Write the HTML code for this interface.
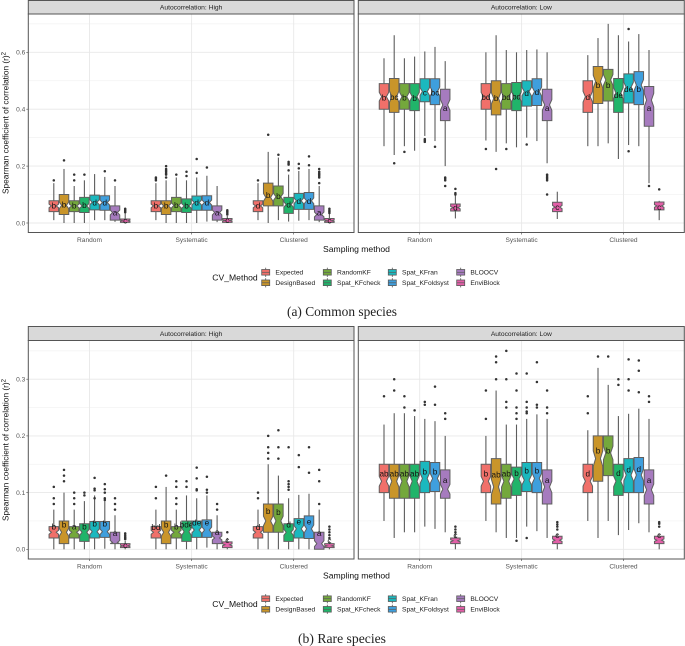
<!DOCTYPE html>
<html lang="en">
<head>
<meta charset="utf-8">
<title>Spearman coefficient by sampling method</title>
<style>
html,body{margin:0;padding:0;background:#fff;}
svg{display:block;font-family:"Liberation Sans",sans-serif;}
</style>
</head>
<body>
<svg id="chart" xmlns="http://www.w3.org/2000/svg" width="685" height="646" viewBox="0 0 685 646">
  <rect x="0" y="0" width="685" height="646" fill="#fff"/>
  <g id="layer"></g>
  <text transform="translate(8.5,123) rotate(-90)" text-anchor="middle" font-size="8.3" fill="#111">Spearman coefficient of correlation (r)<tspan font-size="6" dy="-3">2</tspan></text>
  <text transform="translate(8.5,450) rotate(-90)" text-anchor="middle" font-size="8.3" fill="#111">Spearman coefficient of correlation (r)<tspan font-size="6" dy="-3">2</tspan></text>
  <text x="356.5" y="252" text-anchor="middle" font-size="8.6" fill="#111">Sampling method</text>
  <text x="356.5" y="578.5" text-anchor="middle" font-size="8.6" fill="#111">Sampling method</text>
  <text x="212.3" y="280.5" font-size="8.6" fill="#111">CV_Method</text>
  <text x="212.3" y="607" font-size="8.6" fill="#111">CV_Method</text>
  <text x="342" y="316" text-anchor="middle" font-size="13.4" textLength="110" lengthAdjust="spacingAndGlyphs" font-family="'Liberation Serif',serif" fill="#222">(a) Common species</text>
  <text x="342" y="643" text-anchor="middle" font-size="13.4" textLength="88" lengthAdjust="spacingAndGlyphs" font-family="'Liberation Serif',serif" fill="#222">(b) Rare species</text>
</svg>
<script>
// ---- categories and labels ----
const methods = ['Expected','DesignBased','RandomKF','Spat_KFcheck','Spat_KFran','Spat_KFoldsyst','BLOOCV','EnviBlock'];
const samplingLabels = ['Random','Systematic','Clustered'];
const commonTicks = [0,0.2,0.4,0.6];
const commonMinorTicks = [0.1,0.3,0.5,0.7];
const rareTicks = [0,0.1,0.2,0.3];
const rareMinorTicks = [0.05,0.15,0.25,0.35];

// each row: whisker low, q1, median, q3, whisker high, letter height
// rows run method by method inside Random, Systematic, Clustered
const commonHighStats = [
 [.01,.04,.06,.078,.14,.06],[0,.03,.062,.10,.19,.065],[0,.04,.06,.078,.13,.06],[0,.037,.06,.09,.15,.062],[.01,.046,.073,.098,.172,.072],[.01,.045,.072,.096,.162,.072],[.004,.01,.037,.06,.13,.037],[0,.002,.008,.014,.034,.008],
 [.01,.04,.06,.078,.14,.06],[0,.03,.06,.078,.15,.06],[0,.04,.062,.09,.16,.062],[0,.037,.06,.085,.15,.06],[0,.045,.072,.095,.16,.072],[.005,.045,.072,.096,.166,.072],[.003,.01,.037,.06,.13,.037],[0,.002,.009,.016,.025,.009],
 [.01,.04,.06,.078,.14,.06],[0,.06,.09,.14,.25,.097],[.01,.06,.092,.13,.23,.095],[.005,.034,.065,.09,.17,.065],[.008,.048,.078,.104,.183,.077],[.01,.048,.078,.107,.19,.077],[.003,.01,.03,.06,.13,.036],[0,.002,.008,.016,.034,.008]
];
const commonHighOutliers = [
 [.15],[.22],[.15,.17],[.17],[],[.182],[.15],[.038,.042,.046,.05],
 [.15,.155,.16],[.16,.17,.175,.18,.185,.19,.2],[.17],[.165,.18],[.176,.225],[.195],[],[.03,.035,.04,.045],
 [.15],[.31],[.24],[.185,.205,.21,.215],[.192,.208],[.203,.234],[.14,.16,.165,.17,.175,.18,.19],[.035,.04,.045,.05]
];
const commonHighLetters = ['b','b','b','b','d','d','a','c','b','b','b','b','d','d','a','c','d','b','b','d','d','d','a','c'];

const commonLowStats = [
 [.27,.40,.444,.49,.579,.44],[.239,.389,.444,.508,.66,.443],[.27,.40,.444,.49,.579,.44],[.254,.395,.444,.49,.585,.439],[.306,.426,.462,.507,.603,.458],[.288,.416,.462,.507,.619,.458],[.20,.36,.415,.47,.569,.403],[.016,.042,.054,.067,.098,.054],
 [.29,.40,.444,.49,.60,.443],[.25,.38,.438,.50,.66,.438],[.28,.40,.444,.49,.608,.442],[.266,.395,.444,.494,.60,.444],[.30,.411,.462,.50,.608,.457],[.288,.413,.462,.507,.61,.459],[.21,.36,.415,.47,.60,.404],[.014,.04,.056,.073,.11,.055],
 [.27,.389,.444,.50,.59,.442],[.27,.42,.497,.55,.65,.484],[.28,.429,.503,.54,.70,.484],[.225,.389,.456,.508,.66,.449],[.274,.422,.477,.524,.638,.47],[.27,.416,.485,.532,.664,.47],[.14,.34,.432,.48,.608,.403],[.01,.046,.06,.074,.078,.056]
];
const commonLowOutliers = [
 [],[.21],[.25],[],[.285,.29,.295],[.268],[.13,.15,.155,.16],[.10,.105,.12],
 [.26],[.19],[.26],[],[.276],[],[.10,.15,.155,.16,.165,.17],[],
 [],[],[],[],[.682,.252],[],[.13],[.118]
];
const commonLowLetters = ['b','bc','b','b','c','bc','a','d','bd','b','bd','bd','d','d','a','c','d','b','b','de','de','b','a','c'];

const rareHighStats = [
 [0,.02,.03,.04,.07,.04],[0,.01,.03,.05,.10,.043],[0,.02,.03,.04,.07,.04],[0,.014,.03,.045,.085,.04],[0,.02,.031,.049,.095,.045],[.001,.021,.031,.049,.085,.045],[0,.01,.012,.03,.06,.028],[0,.003,.006,.01,.015,.007],
 [0,.02,.03,.04,.07,.039],[0,.01,.03,.05,.11,.043],[0,.02,.03,.04,.07,.04],[0,.014,.031,.05,.095,.043],[0,.021,.034,.05,.09,.047],[.003,.021,.034,.052,.095,.047],[0,.01,.02,.03,.06,.03],[0,.003,.008,.013,.02,.016],
 [0,.02,.03,.04,.07,.039],[0,.03,.05,.08,.15,.067],[0,.03,.05,.08,.13,.065],[0,.014,.03,.045,.09,.043],[0,.02,.036,.054,.096,.049],[0,.019,.036,.059,.098,.049],[0,0,.01,.03,.07,.028],[0,.003,.006,.01,.014,.015]
];
const rareHighOutliers = [
 [.08,.09,.11],[.12,.13,.14],[.08,.09,.1],[.095,.1],[.09,.104,.107,.126],[.087,.09,.1,.106,.115],[.07,.08,.09],[.018,.02,.022,.025,.028],
 [.09,.11],[.13],[.08,.09,.11,.12],[.11,.12],[.104,.106,.125,.144],[.1,.105,.128],[.07,.08],[.03],
 [.09,.1],[.16,.17,.18,.2],[.16,.18,.21],[.105,.11,.115,.12,.18],[.145,.166],[.135,.18],[.08,.12,.14],[.02,.025,.03,.035,.04]
];
const rareHighLetters = ['b','b','a','b','b','b','a','c','bd','b','b','bde','de','e','a','c','d','b','b','d','e','e','a','c'];

const rareLowStats = [
 [.05,.10,.12,.15,.22,.133],[.02,.09,.12,.15,.24,.133],[.03,.09,.12,.15,.24,.133],[.03,.09,.12,.15,.235,.133],[.04,.10,.125,.155,.23,.137],[.036,.102,.125,.153,.226,.137],[.03,.09,.106,.14,.20,.122],[0,.01,.015,.02,.027,.025],
 [.05,.10,.12,.15,.20,.133],[.03,.08,.11,.16,.28,.132],[.02,.09,.12,.15,.22,.133],[.02,.095,.124,.145,.22,.134],[.04,.102,.122,.153,.23,.139],[.032,.10,.125,.153,.238,.139],[.02,.08,.11,.14,.23,.122],[0,.01,.016,.023,.028,.025],
 [.05,.10,.12,.15,.21,.133],[.02,.12,.16,.20,.32,.174],[.05,.13,.17,.20,.29,.174],[.025,.095,.12,.15,.235,.134],[.034,.10,.131,.16,.239,.14],[.046,.10,.131,.162,.248,.141],[.03,.08,.105,.14,.23,.122],[0,.01,.016,.023,.028,.025]
];
const rareLowOutliers = [
 [.27],[.28,.30],[.25,.27],[.245],[.255,.26],[.255,.287],[.23,.24],[.03,.035,.04],
 [.23,.28],[.30,.33,.34],[.25,.26,.30,.35],[.015,.23,.24,.25,.28,.31],[.02,.24,.243,.25,.26,.31],[.25,.255,.295,.33],[.24,.25,.28],[.035,.04,.044,.048],
 [.24,.27],[.34],[.34],[.29,.30],[.28,.30,.335],[.277,.315,.333],[.26,.27],[.04,.045,.048]
];
const rareLowLetters = ['ab','ab','ab','ab','b','b','a','c','b','ab','ab','b','b','b','a','c','d','b','b','d','d','d','a','c'];

const fills = ['#F0706A','#C9952A','#74A83C','#20B46A','#1BB8BE','#3F9FDD','#A67BBE','#E35FA8'];

const NS = 'http://www.w3.org/2000/svg';
const layer = document.getElementById('layer');

function mark(parent, tag, attrs, name, label) {
  const el = document.createElementNS(NS, tag);
  for (const k in attrs) el.setAttribute(k, attrs[k]);
  
  
  if (label !== undefined) el.textContent = label;
  parent.appendChild(el);
  return el;
}

function boxPath(cx, yScale, q1, med, q3) {
  const half = 4.75, inner = 2.4;
  const nh = 0.17 * (q3 - q1);
  const yT = yScale(q3), yB = yScale(q1);
  const nT = yScale(Math.min(q3, med + nh)), nB = yScale(Math.max(q1, med - nh)), yM = yScale(med);
  return 'M' + (cx - half) + ' ' + yB + 'V' + nB + 'L' + (cx - inner) + ' ' + yM + 'L' + (cx - half) + ' ' + nT +
    'V' + yT + 'H' + (cx + half) + 'V' + nT + 'L' + (cx + inner) + ' ' + yM + 'L' + (cx + half) + ' ' + nB + 'V' + yB + 'Z';
}

function drawPanel(stats, outliers, letters, ticks, minorTicks, name, stripLabel, frame) {
  const g = mark(layer, 'g', {}, name);
  const yScale = function (v) { return frame.zeroY - v * frame.unit; };
  const groupX = function (i) { return frame.firstGroup + i * frame.groupStep; };
  const boxX = function (i, m) { return groupX(i) + (m - 3.5) * 10.2; };

  mark(g, 'rect', {x: frame.left, y: frame.top, width: frame.right - frame.left, height: frame.bottom - frame.top, fill: '#fff'}, 'panel-background');
  minorTicks.forEach(function (t) {
    mark(g, 'line', {x1: frame.left, x2: frame.right, y1: yScale(t), y2: yScale(t), stroke: '#f2f2f2', 'stroke-width': 0.7}, 'minor-gridline');
  });
  ticks.forEach(function (t) {
    mark(g, 'line', {x1: frame.left, x2: frame.right, y1: yScale(t), y2: yScale(t), stroke: '#e8e8e8', 'stroke-width': 0.9}, 'major-gridline');
  });
  samplingLabels.forEach(function (lab, i) {
    mark(g, 'line', {x1: groupX(i), x2: groupX(i), y1: frame.top, y2: frame.bottom, stroke: '#e8e8e8', 'stroke-width': 0.9}, 'vertical-gridline');
    mark(g, 'line', {x1: groupX(i), x2: groupX(i), y1: frame.bottom, y2: frame.bottom + 2, stroke: '#444', 'stroke-width': 0.6}, 'x-axis-tick');
    mark(g, 'text', {x: groupX(i), y: frame.bottom + 9.5, 'text-anchor': 'middle', 'font-size': 6.6, fill: '#555'}, 'x-tick-label', lab);
  });
  if (frame.showY) {
    ticks.forEach(function (t) {
      mark(g, 'line', {x1: frame.left - 2, x2: frame.left, y1: yScale(t), y2: yScale(t), stroke: '#444', 'stroke-width': 0.6}, 'y-axis-tick');
      mark(g, 'text', {x: frame.left - 3, y: yScale(t) + 2.3, 'text-anchor': 'end', 'font-size': 6.6, fill: '#555'}, 'y-tick-label', t.toFixed(1));
    });
  }

  stats.forEach(function (row, idx) {
    const i = Math.floor(idx / methods.length), m = idx % methods.length;
    const cx = boxX(i, m);
    const lo = row[0], q1 = row[1], med = row[2], q3 = row[3], hi = row[4], letterY = row[5];
    const box = mark(g, 'g', {}, 'box-' + methods[m].toLowerCase().replace('_', '-'));
    mark(box, 'line', {x1: cx, x2: cx, y1: yScale(q3), y2: yScale(hi), stroke: '#5c5c5c', 'stroke-width': 1.1}, 'upper-whisker');
    mark(box, 'line', {x1: cx, x2: cx, y1: yScale(q1), y2: yScale(lo), stroke: '#5c5c5c', 'stroke-width': 1.1}, 'lower-whisker');
    outliers[idx].forEach(function (v) {
      mark(box, 'circle', {cx: cx, cy: yScale(v), r: 1.25, fill: '#333'}, 'outlier-point');
    });
    mark(box, 'path', {d: boxPath(cx, yScale, q1, med, q3), fill: fills[m], stroke: '#5f5f5f', 'stroke-width': 1}, 'notched-box');
    mark(box, 'text', {x: cx, y: yScale(letterY) + 2.8, 'text-anchor': 'middle', 'font-size': 8.2, fill: '#111'}, 'significance-letter', letters[idx]);
  });

  mark(g, 'rect', {x: frame.left, y: frame.top, width: frame.right - frame.left, height: frame.bottom - frame.top, fill: 'none', stroke: '#555', 'stroke-width': 1}, 'panel-border');
  mark(g, 'rect', {x: frame.left, y: frame.stripTop, width: frame.right - frame.left, height: frame.top - frame.stripTop, fill: '#D9D9D9', stroke: '#555', 'stroke-width': 1}, 'facet-strip');
  mark(g, 'text', {x: (frame.left + frame.right) / 2, y: (frame.stripTop + frame.top) / 2 + 2.4, 'text-anchor': 'middle', 'font-size': 6.7, fill: '#222'}, 'facet-strip-label', stripLabel);
}

function drawLegend(name, row1Y, row2Y) {
  const g = mark(layer, 'g', {}, name);
  const keyColumns = [265.7, 327.3, 392.3, 460.7];
  methods.forEach(function (label, m) {
    const col = Math.floor(m / 2);
    const y = m % 2 === 0 ? row1Y : row2Y;
    const x = keyColumns[col];
    const entry = mark(g, 'g', {}, 'legend-entry-' + label.toLowerCase().replace('_', '-'));
    mark(entry, 'line', {x1: x, x2: x, y1: y - 4.6, y2: y + 4.6, stroke: '#555', 'stroke-width': 0.8}, 'legend-key-whisker');
    mark(entry, 'rect', {x: x - 4, y: y - 2.8, width: 8, height: 5.6, fill: fills[m], stroke: '#5a5a5a', 'stroke-width': 0.8}, 'legend-key-box');
    mark(entry, 'line', {x1: x - 4, x2: x + 4, y1: y, y2: y, stroke: '#5a5a5a', 'stroke-width': 0.7}, 'legend-key-median');
    mark(entry, 'text', {x: x + 9.7, y: y + 2.3, 'font-size': 6.7, fill: '#222'}, 'legend-label', label);
  });
}

const topLeft = {left: 28.3, right: 354, top: 14, bottom: 232.5, stripTop: 0.5, zeroY: 223, unit: 284.5, firstGroup: 89.5, groupStep: 102.1, showY: true};
const topRight = {left: 358.3, right: 684.3, top: 14, bottom: 232.5, stripTop: 0.5, zeroY: 223, unit: 284.5, firstGroup: 419.7, groupStep: 101.9, showY: false};
const lowLeft = {left: 28.3, right: 354, top: 340.5, bottom: 559, stripTop: 326.5, zeroY: 549.3, unit: 567, firstGroup: 89.5, groupStep: 102.1, showY: true};
const lowRight = {left: 358.3, right: 684.3, top: 340.5, bottom: 559, stripTop: 326.5, zeroY: 549.3, unit: 567, firstGroup: 419.7, groupStep: 101.9, showY: false};

drawPanel(commonHighStats, commonHighOutliers, commonHighLetters, commonTicks, commonMinorTicks, 'panel-common-high', 'Autocorrelation: High', topLeft);
drawPanel(commonLowStats, commonLowOutliers, commonLowLetters, commonTicks, commonMinorTicks, 'panel-common-low', 'Autocorrelation: Low', topRight);
drawPanel(rareHighStats, rareHighOutliers, rareHighLetters, rareTicks, rareMinorTicks, 'panel-rare-high', 'Autocorrelation: High', lowLeft);
drawPanel(rareLowStats, rareLowOutliers, rareLowLetters, rareTicks, rareMinorTicks, 'panel-rare-low', 'Autocorrelation: Low', lowRight);
drawLegend('legend-common', 272.3, 282.8);
drawLegend('legend-rare', 598.7, 609.3);
</script>
</body>
</html>
